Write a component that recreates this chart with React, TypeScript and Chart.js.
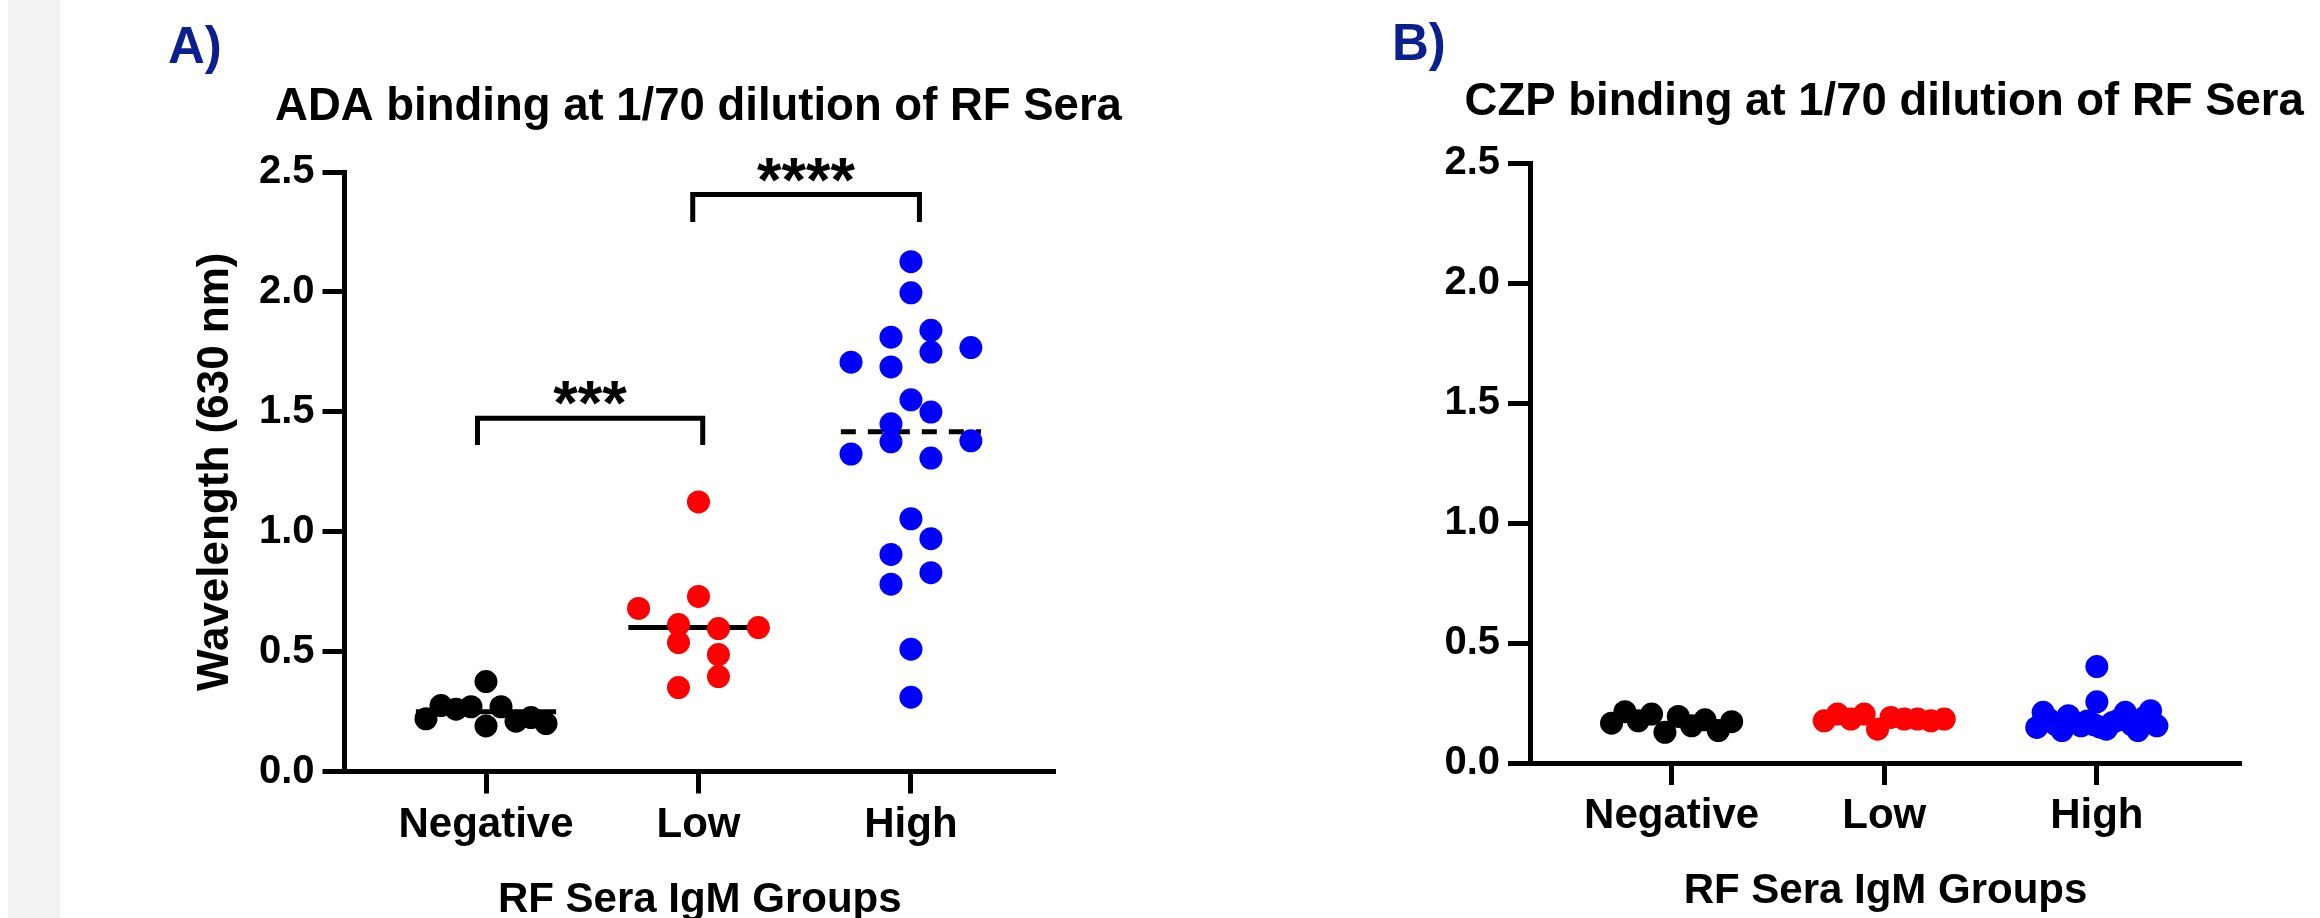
import React, { useEffect, useRef } from 'react';
import { Chart, registerables } from 'chart.js';

Chart.register(...registerables);

// ---------- data ----------
const categories = ['Negative', 'Low', 'High'];

// Panel A: ADA binding (values in array order = left-to-right order inside a row)
const adaNegative = [0.22, 0.275, 0.26, 0.27, 0.375, 0.19, 0.27, 0.21, 0.225, 0.2];
const adaLow = [0.68, 0.73, 0.6125, 0.596, 0.6, 0.5375, 0.4875, 0.35, 0.396, 1.124];
const adaHigh = [
  0.31, 0.51, 0.781, 0.829, 0.905, 0.971, 1.054, 1.324, 1.375, 1.307, 1.379,
  1.45, 1.499, 1.55, 1.707, 1.687, 1.749, 1.768, 1.811, 1.84, 1.996, 2.126,
];
const adaCenterLines = [0.249, 0.6, 1.417];

// Panel B: CZP binding
const czpNegative = [0.166, 0.214, 0.176, 0.204, 0.128, 0.194, 0.155, 0.18, 0.135, 0.172];
const czpLow = [0.176, 0.204, 0.183, 0.204, 0.141, 0.19, 0.183, 0.183, 0.176, 0.183];
const czpHigh = [
  0.148, 0.211, 0.18, 0.16, 0.135, 0.197, 0.17, 0.155, 0.175, 0.16, 0.255,
  0.402, 0.15, 0.141, 0.169, 0.18, 0.211, 0.16, 0.135, 0.19, 0.218, 0.155,
];

// significance brackets (panel A), in axis units
const sigFrom = [0.96, 1.973];
const sigTo = [2.02, 3.04];
const sigTop = [1.473, 2.406];
const sigFoot = [1.362, 2.292];
const sigLabels = ['***', '****'];

// ---------- styles ----------
const groupColors = ['#000000', '#ff0000', '#0000ff'];
const centerLineDash: number[][] = [[], [], [15, 12]];
const FONT = "'Liberation Sans', Arial, Helvetica, sans-serif";
const H = 918;
const LETTER_COLOR = '#0c1f8f';

// swarm layout constants (category units)
const ROW_TOL = 0.09;
const SWARM_STEP = 0.188;
const SWARM_SPAN = 0.565;
const LINE_HALF = 0.33;

function swarmOffsets(values: number[]): number[] {
  const idx = values.map((_, i) => i).sort((a, b) => values[a] - values[b] || a - b);
  const offsets = new Array(values.length).fill(0);
  let i = 0;
  while (i < idx.length) {
    const start = values[idx[i]];
    const row: number[] = [];
    while (i < idx.length && values[idx[i]] - start < ROW_TOL) {
      row.push(idx[i]);
      i++;
    }
    row.sort((a, b) => a - b);
    const n = row.length;
    const sp = n > 1 ? Math.min(SWARM_STEP, SWARM_SPAN / (n - 1)) : 0;
    row.forEach((k, j) => {
      offsets[k] = (j - (n - 1) / 2) * sp;
    });
  }
  return offsets;
}

type Panel = {
  left: number;
  width: number;
  chartLeft: number;
  chartRight: number;
  chartTop: number;
  chartBottom: number;
  letter: string;
  letterX: number;
  letterBaseline: number;
  title: string;
  titleBaseline: number;
  yTitle?: string;
  groups: number[][];
  centerLines?: number[];
  brackets: boolean;
  xTickPad: number;
  xTitlePadBottom: number;
  stripe: boolean;
};

const panelA: Panel = {
  left: 0,
  width: 1160,
  chartLeft: 344.5,
  chartRight: 1055,
  chartTop: 172,
  chartBottom: 771.5,
  letter: 'A)',
  letterX: 168,
  letterBaseline: 63,
  title: 'ADA binding at 1/70 dilution of RF Sera',
  titleBaseline: 120,
  yTitle: 'Wavelength (630 nm)',
  groups: [adaNegative, adaLow, adaHigh],
  centerLines: adaCenterLines,
  brackets: true,
  xTickPad: 7,
  xTitlePadBottom: 0,
  stripe: true,
};

const panelB: Panel = {
  left: 1160,
  width: 1160,
  chartLeft: 370,
  chartRight: 1081,
  chartTop: 163,
  chartBottom: 763,
  letter: 'B)',
  letterX: 232,
  letterBaseline: 60,
  title: 'CZP binding at 1/70 dilution of RF Sera',
  titleBaseline: 115,
  groups: [czpNegative, czpLow, czpHigh],
  brackets: false,
  xTickPad: 6,
  xTitlePadBottom: 9,
  stripe: false,
};

function buildConfig(p: Panel): any {
  const datasets: any[] = [];
  p.groups.forEach((vals, gi) => {
    const offs = swarmOffsets(vals);
    datasets.push({
      type: 'scatter',
      data: vals.map((v, k) => ({ x: gi + 1 + offs[k], y: v })),
      backgroundColor: groupColors[gi],
      borderColor: groupColors[gi],
      borderWidth: 0,
      pointRadius: 11.5,
      pointHoverRadius: 11.5,
      order: 0,
    });
  });
  (p.centerLines || []).forEach((m, gi) => {
    datasets.push({
      type: 'line',
      data: [
        { x: gi + 1 - LINE_HALF, y: m },
        { x: gi + 1 + LINE_HALF, y: m },
      ],
      borderColor: '#000000',
      borderWidth: 5,
      borderDash: centerLineDash[gi],
      borderCapStyle: 'butt',
      pointRadius: 0,
      fill: false,
      showLine: true,
      order: 1,
    });
  });

  const decorations = {
    id: 'decorations',
    beforeDraw(chart: any) {
      const ctx = chart.ctx;
      ctx.save();
      ctx.fillStyle = '#ffffff';
      ctx.fillRect(0, 0, chart.width, chart.height);
      if (p.stripe) {
        ctx.fillStyle = '#f2f2f2';
        ctx.fillRect(8, 0, 52, chart.height);
      }
      ctx.restore();
    },
    afterDraw(chart: any) {
      const ctx = chart.ctx;
      const xs = chart.scales.x;
      const ys = chart.scales.y;
      ctx.save();
      // panel letter
      ctx.fillStyle = LETTER_COLOR;
      ctx.font = `bold 51px ${FONT}`;
      ctx.textAlign = 'left';
      ctx.textBaseline = 'alphabetic';
      ctx.fillText(p.letter, p.letterX, p.letterBaseline);
      // title
      ctx.fillStyle = '#000000';
      ctx.font = `bold 45.5px ${FONT}`;
      ctx.textAlign = 'center';
      ctx.fillText(p.title, xs.getPixelForValue(2), p.titleBaseline);
      // brackets
      if (p.brackets) {
        ctx.strokeStyle = '#000000';
        ctx.lineWidth = 5;
        ctx.lineJoin = 'miter';
        ctx.lineCap = 'butt';
        sigLabels.forEach((lab, i) => {
          const x1 = xs.getPixelForValue(sigFrom[i]);
          const x2 = xs.getPixelForValue(sigTo[i]);
          const yt = ys.getPixelForValue(sigTop[i]);
          const yf = ys.getPixelForValue(sigFoot[i]);
          ctx.beginPath();
          ctx.moveTo(x1, yf);
          ctx.lineTo(x1, yt);
          ctx.lineTo(x2, yt);
          ctx.lineTo(x2, yf);
          ctx.stroke();
          ctx.font = `bold 63px ${FONT}`;
          ctx.textAlign = 'center';
          ctx.textBaseline = 'alphabetic';
          ctx.fillText(lab, (x1 + x2) / 2, yt + 6);
        });
      }
      ctx.restore();
    },
  };

  const tickFont = (size: number) => ({ family: FONT, size, weight: 'bold' as const });

  return {
    type: 'scatter',
    data: { datasets },
    options: {
      animation: false,
      responsive: false,
      devicePixelRatio: 1,
      events: [],
      layout: {
        padding: {
          left: 0,
          top: p.chartTop,
          right: p.width - p.chartRight,
          bottom: 0,
        },
      },
      plugins: {
        legend: { display: false },
        tooltip: { enabled: false },
        title: { display: false },
      },
      scales: {
        x: {
          type: 'linear',
          min: 0.334,
          max: 3.678,
          afterBuildTicks: (s: any) => {
            s.ticks = categories.map((_, i) => ({ value: i + 1 }));
          },
          afterFit: (s: any) => {
            s.height = H - p.chartBottom;
          },
          ticks: {
            callback: (v: number) => categories[Math.round(v) - 1],
            font: tickFont(42),
            color: '#000000',
            padding: p.xTickPad,
            maxRotation: 0,
            autoSkip: false,
          },
          grid: {
            display: true,
            drawOnChartArea: false,
            drawTicks: true,
            tickLength: 22,
            tickWidth: 5,
            tickColor: '#000000',
          },
          border: { display: true, width: 5, color: '#000000' },
          title: {
            display: true,
            text: 'RF Sera IgM Groups',
            color: '#000000',
            font: { family: FONT, size: 42, weight: 'bold', lineHeight: 0.85 },
            padding: { top: 0, bottom: p.xTitlePadBottom },
          },
        },
        y: {
          type: 'linear',
          min: 0,
          max: 2.5,
          afterFit: (s: any) => {
            s.width = p.chartLeft;
          },
          ticks: {
            stepSize: 0.5,
            callback: (v: number) => v.toFixed(1),
            font: tickFont(40),
            color: '#000000',
            padding: 8,
          },
          grid: {
            display: true,
            drawOnChartArea: false,
            drawTicks: true,
            tickLength: 22,
            tickWidth: 5,
            tickColor: '#000000',
          },
          border: { display: true, width: 5, color: '#000000' },
          title: {
            display: !!p.yTitle,
            text: p.yTitle || '',
            color: '#000000',
            font: { family: FONT, size: 44, weight: 'bold', lineHeight: 1 },
            padding: { top: 194, bottom: 0 },
          },
        },
      },
    },
    plugins: [decorations],
  };
}

function PanelChart({ panel }: { panel: Panel }) {
  const ref = useRef<HTMLCanvasElement | null>(null);
  useEffect(() => {
    if (!ref.current) return;
    const chart = new Chart(ref.current, buildConfig(panel));
    return () => chart.destroy();
  }, [panel]);
  return (
    <canvas
      ref={ref}
      width={panel.width}
      height={H}
      style={{
        position: 'absolute',
        left: panel.left,
        top: 0,
        width: panel.width,
        height: H,
        display: 'block',
      }}
    />
  );
}

export default function App() {
  return (
    <div
      style={{
        position: 'fixed',
        left: 0,
        top: 0,
        width: 2320,
        height: H,
        background: '#ffffff',
        overflow: 'hidden',
      }}
    >
      <PanelChart panel={panelA} />
      <PanelChart panel={panelB} />
    </div>
  );
}
